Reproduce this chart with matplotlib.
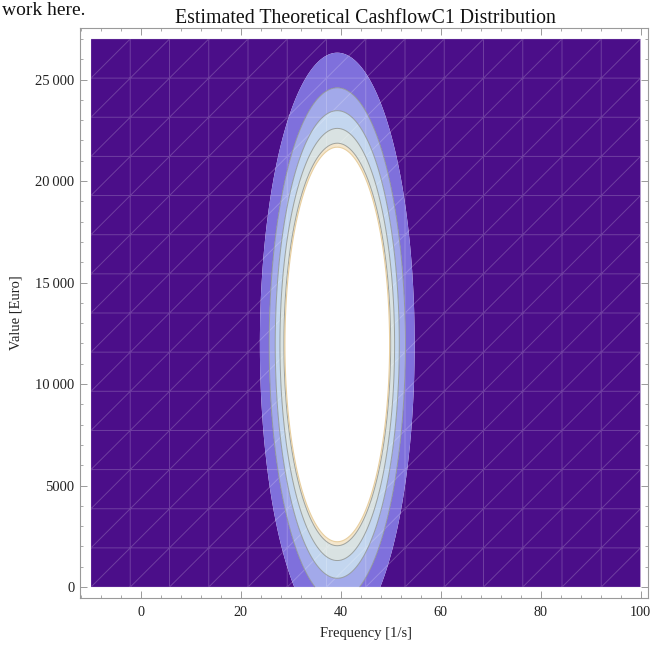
import numpy as np
import matplotlib
matplotlib.use("Agg")
import matplotlib.pyplot as plt
import matplotlib.tri as mtri
from matplotlib.ticker import MultipleLocator, FuncFormatter

# ---- data ----
title = "Estimated Theoretical CashflowC1 Distribution"
x_label = "Frequency [1/s]"
y_label = "Value [Euro]"
x_range = [-10, 100]          # plotted frequency domain
y_range = [0, 27000]          # plotted value domain
mean_freq = 39.3
sd_freq = 6.25
mean_value = 11950.0
sd_value = 5800.0
# contour levels (fraction of peak density); above the last one is clipped (white)
contour_levels = [0.0, 0.0464, 0.0928, 0.1392, 0.1856, 0.232, 0.2456]
band_colors = ["#4b0e89", "#7f70dc", "#a2a9ea", "#c3d6ef", "#d9e2e2", "#f4e6cc"]
x_ticks = [0, 20, 40, 60, 80, 100]
y_ticks = [0, 5000, 10000, 15000, 20000, 25000]
mesh_cells = 14

plt.rcParams['font.family'] = ['Liberation Serif', 'DejaVu Serif']

W, H = 650, 645
fig = plt.figure(figsize=(W/100, H/100), dpi=100)
ax_l, ax_r, ax_t, ax_b = 80, 648, 28, 598
ax = fig.add_axes([ax_l/W, 1-ax_b/H, (ax_r-ax_l)/W, (ax_b-ax_t)/H])

xs = np.linspace(x_range[0], x_range[1], 300)
ys = np.linspace(y_range[0], y_range[1], 300)
X, Y = np.meshgrid(xs, ys)
Z = np.exp(-0.5*((X-mean_freq)/sd_freq)**2 - 0.5*((Y-mean_value)/sd_value)**2)

ax.contourf(X, Y, Z, levels=contour_levels, colors=band_colors, antialiased=True)
ax.contour(X, Y, Z, levels=contour_levels[2:-1], colors="#8a8f8c", linewidths=0.7, alpha=0.8)
ax.contour(X, Y, Z, levels=[contour_levels[-1]], colors="#e8cfa0", linewidths=0.8)

# faint triangulation mesh (rendering seams in the original)
gx = np.linspace(x_range[0], x_range[1], mesh_cells+1)
gy = np.linspace(y_range[0], y_range[1], mesh_cells+1)
GX, GY = np.meshgrid(gx, gy)
tris = []
n = mesh_cells + 1
for j in range(mesh_cells):
    for i in range(mesh_cells):
        a = j*n + i
        b = a + 1
        c = a + n
        d = c + 1
        tris.append([a, b, d])
        tris.append([a, d, c])
tri = mtri.Triangulation(GX.ravel(), GY.ravel(), np.array(tris))
ax.triplot(tri, color="white", alpha=0.2, linewidth=0.7)

pad_x = 0.02*(x_range[1]-x_range[0])
pad_y = 0.02*(y_range[1]-y_range[0])
ax.set_xlim(x_range[0]-pad_x, x_range[1]+1.5)
ax.set_ylim(y_range[0]-pad_y, y_range[1]+pad_y)

frame_col = "#9a9a9a"
for s in ax.spines.values():
    s.set_color(frame_col)
    s.set_linewidth(0.8)

ax.set_xticks(x_ticks)
ax.set_yticks(y_ticks)
ax.xaxis.set_minor_locator(MultipleLocator(4))
ax.yaxis.set_minor_locator(MultipleLocator(1000))
ax.yaxis.set_major_formatter(FuncFormatter(
    lambda v, p: ("%d" % v) if v < 10000 else "{:,}".format(int(v)).replace(",", "\u2009")))
ax.tick_params(which="both", direction="in", top=True, right=True, color=frame_col,
               labelsize=10.5, labelcolor="#222222", pad=4)
ax.tick_params(which="major", length=5, width=0.7)
ax.tick_params(which="minor", length=2.5, width=0.6)
ax.tick_params(axis="x", which="major", pad=6, labelsize=10.2)

ax.set_xlabel(x_label, fontsize=10.5, color="#222222")
ax.set_ylabel(y_label, fontsize=10.5, color="#222222")
ax.xaxis.set_label_coords((366-ax_l)/(ax_r-ax_l), -(627-ax_b)/(ax_b-ax_t))
ax.yaxis.set_label_coords(-(ax_l-22)/(ax_r-ax_l), (ax_b-313)/(ax_b-ax_t))
ax.set_title(title, fontsize=14.3, color="#111111", x=(365-ax_l)/(ax_r-ax_l), pad=1)

fig.text(0.003, 1 - 15/H, "work here.", fontsize=14, va="baseline", ha="left", color="#111111")

fig.savefig("out.png", dpi=100)
